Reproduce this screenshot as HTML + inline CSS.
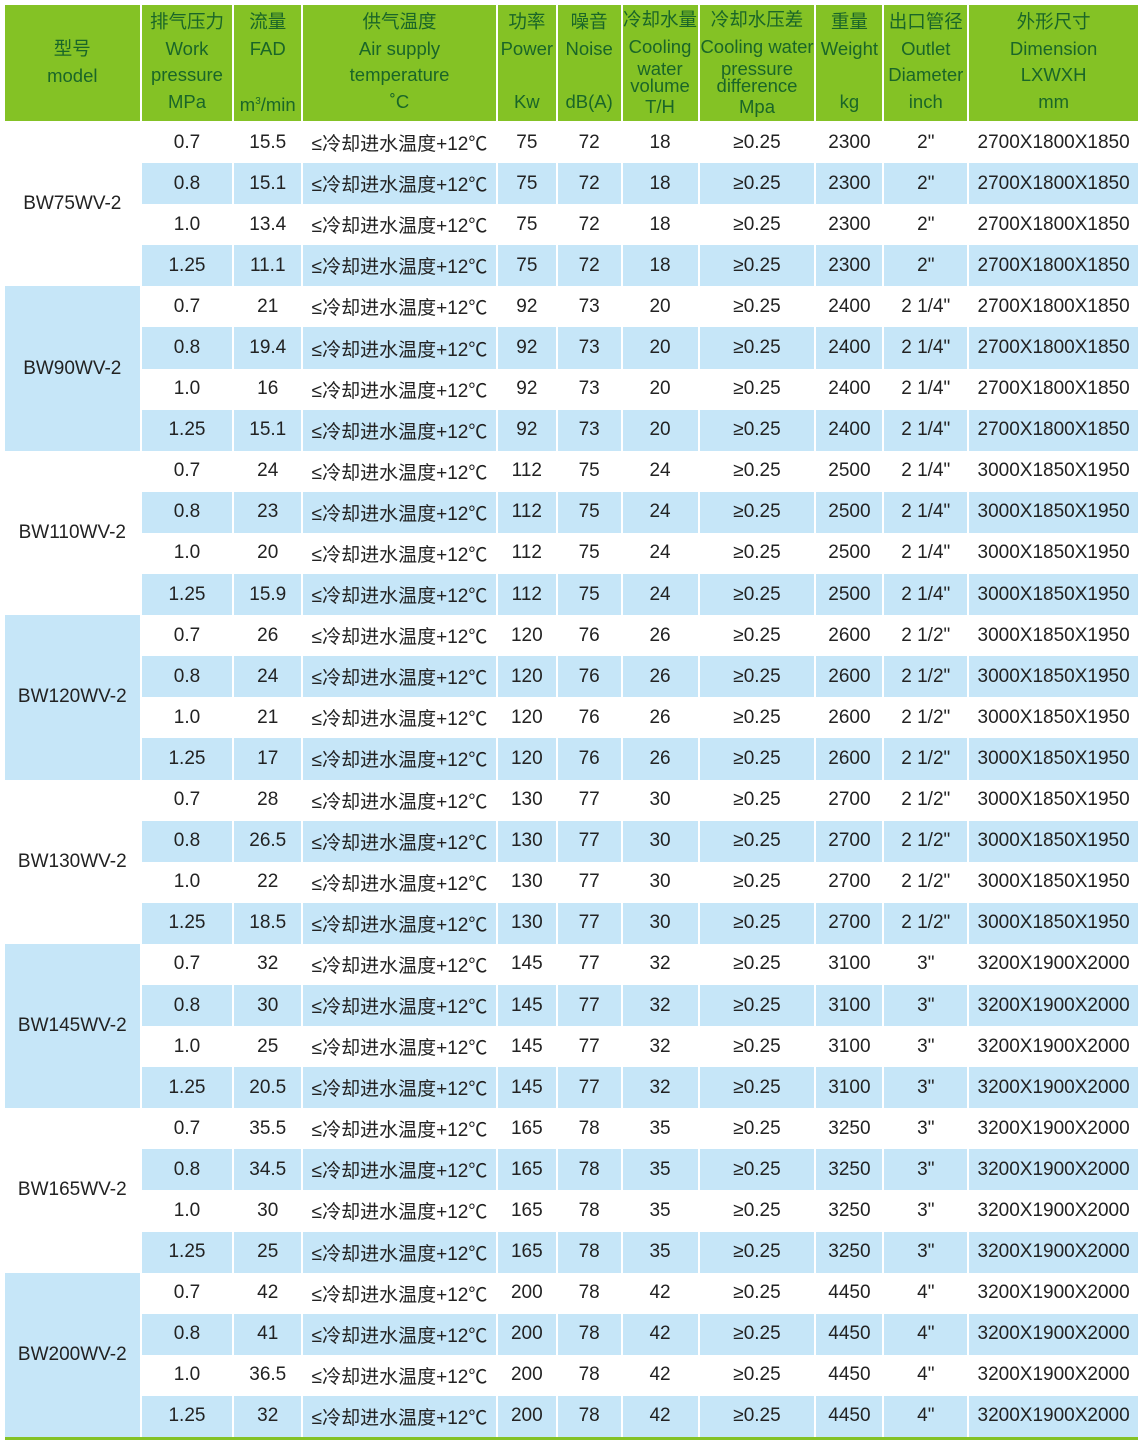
<!DOCTYPE html>
<html><head><meta charset="utf-8"><style>
body{margin:0;width:1140px;height:1451px;background:#fff;position:relative;overflow:hidden;font-family:"Liberation Sans","Noto Sans CJK SC",sans-serif;}
table{position:absolute;left:3px;top:5px;border-collapse:separate;border-spacing:2px 0;table-layout:fixed;}
th{background:#84c225;color:#1a6628;font-weight:normal;font-size:18.5px;height:116px;padding:0;vertical-align:top;text-align:center;border-bottom:1px solid #fff;overflow:hidden;}
th div{line-height:26.5px;white-space:nowrap;}
th .s{line-height:17px;}
tr.h{height:117px;}
td{height:41.1px;padding:0;text-align:center;font-size:19px;color:#222;white-space:nowrap;}
tr.b td{background:#c6e6f8;}
td.m{background:#fff !important;}
td.mb{background:#c6e6f8 !important;}
.line{position:absolute;left:5px;top:1437px;width:1133px;height:3px;background:#84c225;}
</style></head><body>
<table>
<colgroup><col style="width:135px"><col style="width:91px"><col style="width:67px"><col style="width:193px"><col style="width:58px"><col style="width:63px"><col style="width:75px"><col style="width:115px"><col style="width:66px"><col style="width:83px"><col style="width:169px"></colgroup>
<tr class="h">
<th><div style="margin-top:31px">型号</div><div>model</div></th>
<th><div style="margin-top:4px">排气压力</div><div>Work</div><div>pressure</div><div>MPa</div></th>
<th><div style="margin-top:4px">流量</div><div>FAD</div><div>&nbsp;</div><div>m<sup style="font-size:10px">3</sup>/min</div></th>
<th><div style="margin-top:4px">供气温度</div><div>Air supply</div><div>temperature</div><div>˚C</div></th>
<th><div style="margin-top:4px">功率</div><div>Power</div><div>&nbsp;</div><div>Kw</div></th>
<th><div style="margin-top:4px">噪音</div><div>Noise</div><div>&nbsp;</div><div>dB(A)</div></th>
<th><div style="margin-top:2px">冷却水量</div><div>Cooling</div><div class="s">water</div><div class="s">volume</div><div>T/H</div></th>
<th><div style="margin-top:2px">冷却水压差</div><div>Cooling water</div><div class="s">pressure</div><div class="s">difference</div><div>Mpa</div></th>
<th><div style="margin-top:4px">重量</div><div>Weight</div><div>&nbsp;</div><div>kg</div></th>
<th><div style="margin-top:4px">出口管径</div><div>Outlet</div><div>Diameter</div><div>inch</div></th>
<th><div style="margin-top:4px">外形尺寸</div><div>Dimension</div><div>LXWXH</div><div>mm</div></th>
</tr>
<tr><td class="m" rowspan="4">BW75WV-2</td><td>0.7</td><td>15.5</td><td>≤冷却进水温度+12℃</td><td>75</td><td>72</td><td>18</td><td>≥0.25</td><td>2300</td><td>2"</td><td>2700X1800X1850</td></tr>
<tr class="b"><td>0.8</td><td>15.1</td><td>≤冷却进水温度+12℃</td><td>75</td><td>72</td><td>18</td><td>≥0.25</td><td>2300</td><td>2"</td><td>2700X1800X1850</td></tr>
<tr><td>1.0</td><td>13.4</td><td>≤冷却进水温度+12℃</td><td>75</td><td>72</td><td>18</td><td>≥0.25</td><td>2300</td><td>2"</td><td>2700X1800X1850</td></tr>
<tr class="b"><td>1.25</td><td>11.1</td><td>≤冷却进水温度+12℃</td><td>75</td><td>72</td><td>18</td><td>≥0.25</td><td>2300</td><td>2"</td><td>2700X1800X1850</td></tr>
<tr><td class="mb" rowspan="4">BW90WV-2</td><td>0.7</td><td>21</td><td>≤冷却进水温度+12℃</td><td>92</td><td>73</td><td>20</td><td>≥0.25</td><td>2400</td><td>2 1/4"</td><td>2700X1800X1850</td></tr>
<tr class="b"><td>0.8</td><td>19.4</td><td>≤冷却进水温度+12℃</td><td>92</td><td>73</td><td>20</td><td>≥0.25</td><td>2400</td><td>2 1/4"</td><td>2700X1800X1850</td></tr>
<tr><td>1.0</td><td>16</td><td>≤冷却进水温度+12℃</td><td>92</td><td>73</td><td>20</td><td>≥0.25</td><td>2400</td><td>2 1/4"</td><td>2700X1800X1850</td></tr>
<tr class="b"><td>1.25</td><td>15.1</td><td>≤冷却进水温度+12℃</td><td>92</td><td>73</td><td>20</td><td>≥0.25</td><td>2400</td><td>2 1/4"</td><td>2700X1800X1850</td></tr>
<tr><td class="m" rowspan="4">BW110WV-2</td><td>0.7</td><td>24</td><td>≤冷却进水温度+12℃</td><td>112</td><td>75</td><td>24</td><td>≥0.25</td><td>2500</td><td>2 1/4"</td><td>3000X1850X1950</td></tr>
<tr class="b"><td>0.8</td><td>23</td><td>≤冷却进水温度+12℃</td><td>112</td><td>75</td><td>24</td><td>≥0.25</td><td>2500</td><td>2 1/4"</td><td>3000X1850X1950</td></tr>
<tr><td>1.0</td><td>20</td><td>≤冷却进水温度+12℃</td><td>112</td><td>75</td><td>24</td><td>≥0.25</td><td>2500</td><td>2 1/4"</td><td>3000X1850X1950</td></tr>
<tr class="b"><td>1.25</td><td>15.9</td><td>≤冷却进水温度+12℃</td><td>112</td><td>75</td><td>24</td><td>≥0.25</td><td>2500</td><td>2 1/4"</td><td>3000X1850X1950</td></tr>
<tr><td class="mb" rowspan="4">BW120WV-2</td><td>0.7</td><td>26</td><td>≤冷却进水温度+12℃</td><td>120</td><td>76</td><td>26</td><td>≥0.25</td><td>2600</td><td>2 1/2"</td><td>3000X1850X1950</td></tr>
<tr class="b"><td>0.8</td><td>24</td><td>≤冷却进水温度+12℃</td><td>120</td><td>76</td><td>26</td><td>≥0.25</td><td>2600</td><td>2 1/2"</td><td>3000X1850X1950</td></tr>
<tr><td>1.0</td><td>21</td><td>≤冷却进水温度+12℃</td><td>120</td><td>76</td><td>26</td><td>≥0.25</td><td>2600</td><td>2 1/2"</td><td>3000X1850X1950</td></tr>
<tr class="b"><td>1.25</td><td>17</td><td>≤冷却进水温度+12℃</td><td>120</td><td>76</td><td>26</td><td>≥0.25</td><td>2600</td><td>2 1/2"</td><td>3000X1850X1950</td></tr>
<tr><td class="m" rowspan="4">BW130WV-2</td><td>0.7</td><td>28</td><td>≤冷却进水温度+12℃</td><td>130</td><td>77</td><td>30</td><td>≥0.25</td><td>2700</td><td>2 1/2"</td><td>3000X1850X1950</td></tr>
<tr class="b"><td>0.8</td><td>26.5</td><td>≤冷却进水温度+12℃</td><td>130</td><td>77</td><td>30</td><td>≥0.25</td><td>2700</td><td>2 1/2"</td><td>3000X1850X1950</td></tr>
<tr><td>1.0</td><td>22</td><td>≤冷却进水温度+12℃</td><td>130</td><td>77</td><td>30</td><td>≥0.25</td><td>2700</td><td>2 1/2"</td><td>3000X1850X1950</td></tr>
<tr class="b"><td>1.25</td><td>18.5</td><td>≤冷却进水温度+12℃</td><td>130</td><td>77</td><td>30</td><td>≥0.25</td><td>2700</td><td>2 1/2"</td><td>3000X1850X1950</td></tr>
<tr><td class="mb" rowspan="4">BW145WV-2</td><td>0.7</td><td>32</td><td>≤冷却进水温度+12℃</td><td>145</td><td>77</td><td>32</td><td>≥0.25</td><td>3100</td><td>3"</td><td>3200X1900X2000</td></tr>
<tr class="b"><td>0.8</td><td>30</td><td>≤冷却进水温度+12℃</td><td>145</td><td>77</td><td>32</td><td>≥0.25</td><td>3100</td><td>3"</td><td>3200X1900X2000</td></tr>
<tr><td>1.0</td><td>25</td><td>≤冷却进水温度+12℃</td><td>145</td><td>77</td><td>32</td><td>≥0.25</td><td>3100</td><td>3"</td><td>3200X1900X2000</td></tr>
<tr class="b"><td>1.25</td><td>20.5</td><td>≤冷却进水温度+12℃</td><td>145</td><td>77</td><td>32</td><td>≥0.25</td><td>3100</td><td>3"</td><td>3200X1900X2000</td></tr>
<tr><td class="m" rowspan="4">BW165WV-2</td><td>0.7</td><td>35.5</td><td>≤冷却进水温度+12℃</td><td>165</td><td>78</td><td>35</td><td>≥0.25</td><td>3250</td><td>3"</td><td>3200X1900X2000</td></tr>
<tr class="b"><td>0.8</td><td>34.5</td><td>≤冷却进水温度+12℃</td><td>165</td><td>78</td><td>35</td><td>≥0.25</td><td>3250</td><td>3"</td><td>3200X1900X2000</td></tr>
<tr><td>1.0</td><td>30</td><td>≤冷却进水温度+12℃</td><td>165</td><td>78</td><td>35</td><td>≥0.25</td><td>3250</td><td>3"</td><td>3200X1900X2000</td></tr>
<tr class="b"><td>1.25</td><td>25</td><td>≤冷却进水温度+12℃</td><td>165</td><td>78</td><td>35</td><td>≥0.25</td><td>3250</td><td>3"</td><td>3200X1900X2000</td></tr>
<tr><td class="mb" rowspan="4">BW200WV-2</td><td>0.7</td><td>42</td><td>≤冷却进水温度+12℃</td><td>200</td><td>78</td><td>42</td><td>≥0.25</td><td>4450</td><td>4"</td><td>3200X1900X2000</td></tr>
<tr class="b"><td>0.8</td><td>41</td><td>≤冷却进水温度+12℃</td><td>200</td><td>78</td><td>42</td><td>≥0.25</td><td>4450</td><td>4"</td><td>3200X1900X2000</td></tr>
<tr><td>1.0</td><td>36.5</td><td>≤冷却进水温度+12℃</td><td>200</td><td>78</td><td>42</td><td>≥0.25</td><td>4450</td><td>4"</td><td>3200X1900X2000</td></tr>
<tr class="b"><td>1.25</td><td>32</td><td>≤冷却进水温度+12℃</td><td>200</td><td>78</td><td>42</td><td>≥0.25</td><td>4450</td><td>4"</td><td>3200X1900X2000</td></tr>
</table>
<div class="line"></div>
</body></html>
